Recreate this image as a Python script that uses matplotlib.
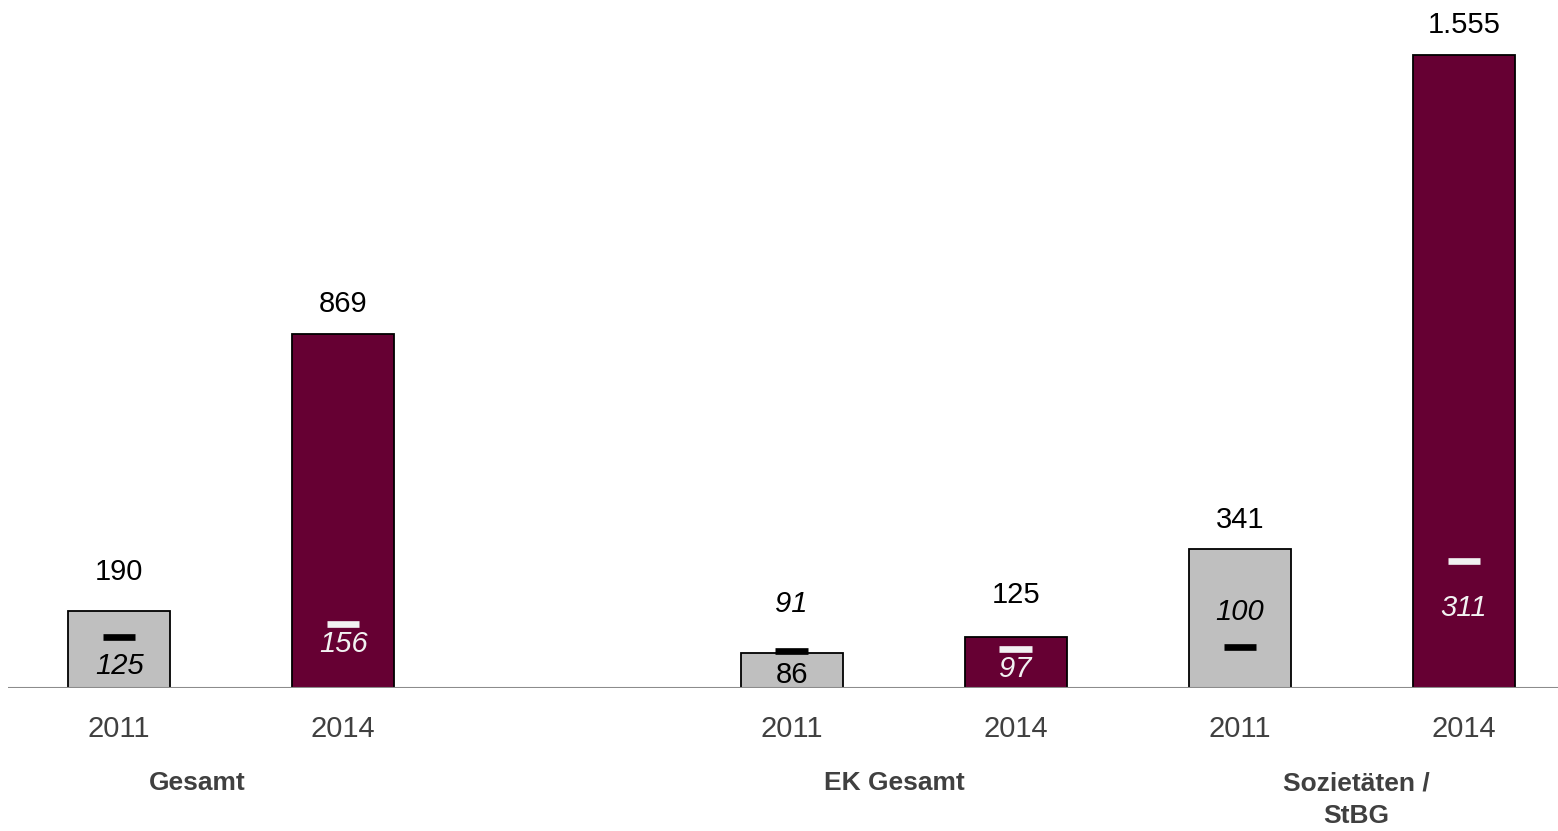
import numpy as np
import matplotlib.pyplot as plt

plt.rcParams['font.family'] = ['Liberation Sans Narrow', 'Liberation Sans', 'DejaVu Sans']

# data
years = ['2011', '2014', '2011', '2014', '2011', '2014']
groups = ['Gesamt', 'EK Gesamt', 'Sozietäten /\nStBG']
totals = [190, 869, 86, 125, 341, 1555]
medians = [125, 156, 91, 97, 100, 311]
is_2014 = [False, True, False, True, False, True]

# layout
x_pos = np.array([0, 1, 3, 4, 5, 6])
group_x = [0.35, 3.46, 5.52]
group_off = [-95, -95, -112]               # group label centre below axis (px)
px = 0.72  # points per pixel at dpi 100
top_off = [39, 30, None, 42, 29, 30]       # value label above bar top (px)
med_off = [-29, -20, 47, -20, 35, -47]     # median label relative to dash (px)
FS = 21

GREY = '#bfbfbf'
MAROON = '#660033'
LIGHT = '#f2f2f2'

def fmt(v):
    return f"{v:,}".replace(",", ".")

fig = plt.figure(figsize=(15.58, 8.31), dpi=100)
ax = fig.add_axes([8/1558, 1 - 688/831, 1 - 8/1558, 688/831])

cols = [MAROON if b else GREY for b in is_2014]
ax.bar(x_pos, totals, width=0.455, color=cols, edgecolor='black', linewidth=1.3, zorder=2)

for i, x in enumerate(x_pos):
    dash_col = LIGHT if is_2014[i] else 'black'
    ax.hlines(medians[i], x - 0.072, x + 0.072, colors=dash_col, linewidth=4.8, zorder=3)

    # median label (italic), white inside the maroon bars
    lab_col = LIGHT if is_2014[i] else 'black'
    ax.annotate(str(medians[i]), (x, medians[i]), xytext=(0, med_off[i] * px),
                textcoords='offset points', ha='center', va='center',
                fontsize=FS, style='italic', color=lab_col, zorder=4)

    # total label
    if top_off[i] is None:
        ax.annotate(fmt(totals[i]), (x, 0), xytext=(0, 13 * px), textcoords='offset points',
                    ha='center', va='center', fontsize=FS, color='black', zorder=4)
    else:
        ax.annotate(fmt(totals[i]), (x, totals[i]), xytext=(0, top_off[i] * px),
                    textcoords='offset points', ha='center', va='center',
                    fontsize=FS, color='black', zorder=4)

    # year label
    ax.annotate(years[i], (x, 0), xytext=(0, -41 * px), textcoords='offset points',
                ha='center', va='center', fontsize=FS, color='#404040', annotation_clip=False)

for gx, g, off in zip(group_x, groups, group_off):
    ax.annotate(g, (gx, 0), xytext=(0, off * px), textcoords='offset points',
                ha='center', va='center', fontsize=19, fontweight='bold', color='#404040',
                linespacing=1.45, annotation_clip=False)

ax.set_xlim(-0.496, 6.42)
ax.set_ylim(0, 1690)
ax.axhline(0, color='#8c8c8c', linewidth=1.5, zorder=5)
ax.set_xticks([])
ax.set_yticks([])
for s in ax.spines.values():
    s.set_visible(False)
ax.patch.set_alpha(0)

fig.savefig('out.png', dpi=100)
